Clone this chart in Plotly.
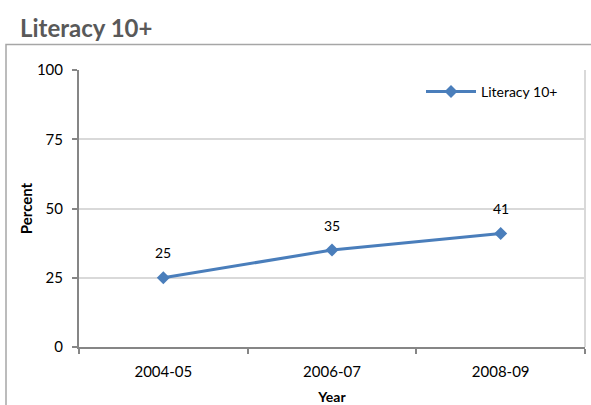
import plotly.graph_objects as go

years = ["2004-05", "2006-07", "2008-09"]
literacy = [25, 35, 41]
y_ticks = [0, 25, 50, 75, 100]

W, H = 591, 405
L, R, T, B = 79, 6, 70, 58
pw, ph = W - L - R, H - T - B

def px(x):
    return (x - L) / pw

def py(y):
    return (H - B - y) / ph

blue = "#4a7ebb"
font = "Lato, 'Open Sans', sans-serif"

fig = go.Figure()
fig.add_trace(go.Scatter(
    x=years, y=literacy, mode="lines+markers", name="Literacy 10+",
    line=dict(color=blue, width=3),
    marker=dict(symbol="diamond", size=10, color=blue),
))

for xv, yv in zip(years, literacy):
    fig.add_annotation(x=xv, y=yv, text=str(yv), showarrow=False,
                       yshift=25, font=dict(size=14, color="#000000", family=font))

# chart border
fig.add_shape(type="rect", xref="paper", yref="paper",
              x0=px(6), x1=px(600), y0=py(420), y1=py(44.5),
              line=dict(color="#a6a6a6", width=1.5), layer="below")
# plot area right border
fig.add_shape(type="line", xref="paper", yref="paper",
              x0=1, x1=1, y0=0, y1=1,
              line=dict(color="#d9d9d9", width=2), layer="below")

fig.update_layout(
    width=W, height=H,
    margin=dict(l=L, r=R, t=T, b=B, autoexpand=False),
    paper_bgcolor="white", plot_bgcolor="white",
    font=dict(family=font, size=15, color="#000000"),
    title=dict(text="<b>Literacy 10+</b>", x=20 / W, xanchor="left",
               y=1 - 29 / H, yanchor="middle",
               font=dict(size=24, color="#595959", family=font)),
    showlegend=True,
    legend=dict(x=px(421), y=py(92), xanchor="left", yanchor="middle",
                bgcolor="rgba(0,0,0,0)", font=dict(size=14, color="#000000"),
                itemwidth=50),
    xaxis=dict(type="category", range=[-0.5, 2.5], showgrid=False,
               showline=True, linecolor="#868686", linewidth=2,
               ticks="outside", tickson="boundaries", ticklen=5,
               tickcolor="#868686", tickwidth=2, automargin=False,
               ticklabelstandoff=10,
               title=dict(text="<b>Year</b>", font=dict(size=14), standoff=13),
               fixedrange=True),
    yaxis=dict(range=[0, 100], tickvals=y_ticks, showgrid=True,
               gridcolor="#d9d9d9", gridwidth=2, zeroline=False,
               showline=True, linecolor="#868686", linewidth=2,
               ticks="outside", ticklen=5, tickcolor="#868686", tickwidth=2,
               automargin=False, ticklabelstandoff=6,
               title=dict(text="<b>Percent</b>", font=dict(size=15), standoff=1),
               fixedrange=True),
)

fig.write_html("out.html", config={"displayModeBar": False},
               post_script="document.body.style.margin='0';")
